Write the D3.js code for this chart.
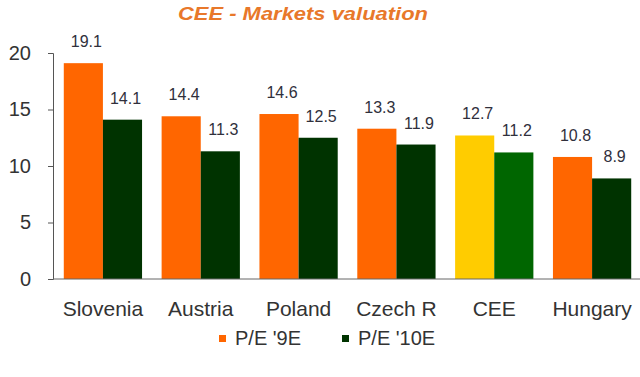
<!DOCTYPE html>
<html>
<head>
<meta charset="utf-8">
<script src="https://cdn.jsdelivr.net/npm/d3@7"></script>
<style>
  body { margin: 0; background: #fff; }
  text { font-family: "Liberation Sans", Arial, sans-serif; }
</style>
</head>
<body>
<script>
// chart data
var categories = ['Slovenia', 'Austria', 'Poland', 'Czech R', 'CEE', 'Hungary'];
var pe09 = [19.1, 14.4, 14.6, 13.3, 12.7, 10.8];
var pe10 = [14.1, 11.3, 12.5, 11.9, 11.2, 8.9];
var seriesNames = ["P/E '9E", "P/E '10E"];
var yTicks = [0, 5, 10, 15, 20];

var seriesColors = ['#ff6600', '#003300'];
// the CEE group is drawn in its own colours
var highlight = { 'CEE': ['#ffcc00', '#006600'] };

var width = 640, height = 377;

var svg = d3.select('body').append('svg')
    .attr('width', width)
    .attr('height', height);

var x0 = d3.scaleBand()
    .domain(categories)
    .range([54, 641])
    .paddingInner(0.2)
    .paddingOuter(0.1);

var x1 = d3.scaleBand()
    .domain([0, 1])
    .range([0, x0.bandwidth()]);

var y = d3.scaleLinear().domain([0, 20]).range([279, 53]);

// title (the picture is a bit stretched sideways)
svg.append('text')
    .attr('x', 178)
    .attr('y', 20)
    .attr('textLength', 250)
    .attr('lengthAdjust', 'spacingAndGlyphs')
    .style('font-size', '18px')
    .style('font-weight', 'bold')
    .style('font-style', 'italic')
    .style('fill', '#e8782a')
    .text('CEE - Markets valuation');

// build rows for bars
var rows = [];
categories.forEach(function (c, i) {
    [pe09[i], pe10[i]].forEach(function (v, s) {
        var col = highlight[c] ? highlight[c][s] : seriesColors[s];
        rows.push({ cat: c, s: s, v: v, color: col });
    });
});

svg.selectAll('rect.bar')
    .data(rows)
    .enter().append('rect')
    .attr('class', 'bar')
    .attr('x', function (d) { return x0(d.cat) + x1(d.s); })
    .attr('width', x1.bandwidth())
    .attr('y', function (d) { return y(d.v); })
    .attr('height', function (d) { return y(0) - y(d.v); })
    .attr('fill', function (d) { return d.color; });

// value labels
svg.selectAll('text.val')
    .data(rows)
    .enter().append('text')
    .attr('class', 'val')
    .attr('x', function (d) { return x0(d.cat) + x1(d.s) + x1.bandwidth() / 2 + 3; })
    .attr('y', function (d) { return y(d.v) - 16; })
    .attr('text-anchor', 'middle')
    .style('font-size', '16px')
    .style('fill', '#30303c')
    .text(function (d) { return d.v.toFixed(1); });

// y axis
var yAxis = svg.append('g')
    .attr('transform', 'translate(53,0)')
    .call(d3.axisLeft(y).tickValues(yTicks).tickSize(5).tickPadding(17));
yAxis.select('.domain').attr('stroke', '#555');
yAxis.selectAll('line').attr('stroke', '#555');
yAxis.selectAll('text')
    .style('font-size', '20px')
    .style('font-family', '"Liberation Sans", Arial, sans-serif')
    .attr('fill', '#333');

// x axis
var xAxis = svg.append('g')
    .attr('transform', 'translate(0,279)')
    .call(d3.axisBottom(x0).tickSize(0).tickPadding(22));
xAxis.select('.domain').attr('stroke', '#666').attr('d', 'M53,0H640');
xAxis.selectAll('text')
    .style('font-size', '21px')
    .style('font-family', '"Liberation Sans", Arial, sans-serif')
    .attr('fill', '#333');

// legend
var legendX = [219, 342];
var legend = svg.selectAll('g.leg')
    .data(seriesNames)
    .enter().append('g')
    .attr('class', 'leg')
    .attr('transform', function (d, i) { return 'translate(' + legendX[i] + ',0)'; });
legend.append('rect')
    .attr('x', 0).attr('y', 335)
    .attr('width', 7).attr('height', 7)
    .attr('fill', function (d, i) { return seriesColors[i]; });
legend.append('text')
    .attr('x', 16).attr('y', 345)
    .style('font-size', '20px')
    .style('fill', '#333')
    .text(function (d) { return d; });
</script>
</body>
</html>
